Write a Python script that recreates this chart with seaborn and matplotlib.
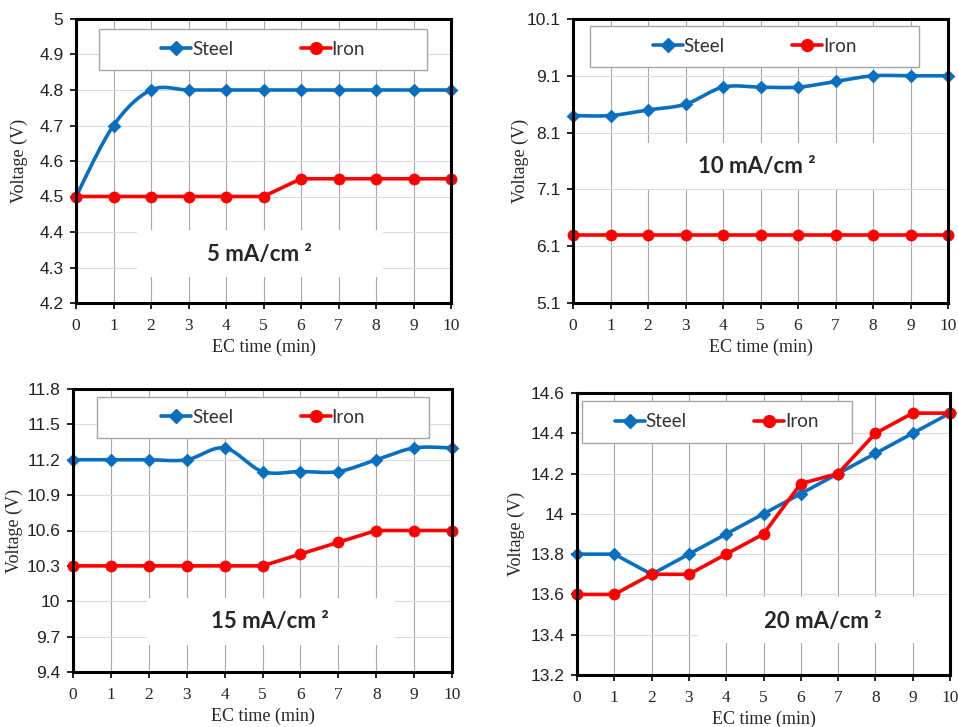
import numpy as np
import matplotlib
matplotlib.use("Agg")
import matplotlib.pyplot as plt
import seaborn as sns
from matplotlib.lines import Line2D
from matplotlib.patches import Rectangle

sns.set_theme(style="white")

# ---------------- data ----------------
time = [0, 1, 2, 3, 4, 5, 6, 7, 8, 9, 10]
steel_5 = [4.5, 4.7, 4.8, 4.8, 4.8, 4.8, 4.8, 4.8, 4.8, 4.8, 4.8]
iron_5 = [4.5, 4.5, 4.5, 4.5, 4.5, 4.5, 4.55, 4.55, 4.55, 4.55, 4.55]
steel_10 = [8.4, 8.4, 8.5, 8.6, 8.9, 8.9, 8.9, 9.0, 9.1, 9.1, 9.1]
iron_10 = [6.3, 6.3, 6.3, 6.3, 6.3, 6.3, 6.3, 6.3, 6.3, 6.3, 6.3]
steel_15 = [11.2, 11.2, 11.2, 11.2, 11.3, 11.1, 11.1, 11.1, 11.2, 11.3, 11.3]
iron_15 = [10.3, 10.3, 10.3, 10.3, 10.3, 10.3, 10.4, 10.5, 10.6, 10.6, 10.6]
steel_20 = [13.8, 13.8, 13.7, 13.8, 13.9, 14.0, 14.1, 14.2, 14.3, 14.4, 14.5]
iron_20 = [13.6, 13.6, 13.7, 13.7, 13.8, 13.9, 14.15, 14.2, 14.4, 14.5, 14.5]

labels_series = ["Steel", "Iron"]
panel_titles = ["5 mA/cm ²", "10 mA/cm ²", "15 mA/cm ²", "20 mA/cm ²"]
y_ticks = [
    [4.2, 4.3, 4.4, 4.5, 4.6, 4.7, 4.8, 4.9, 5.0],
    [5.1, 6.1, 7.1, 8.1, 9.1, 10.1],
    [9.4, 9.7, 10.0, 10.3, 10.6, 10.9, 11.2, 11.5, 11.8],
    [13.2, 13.4, 13.6, 13.8, 14.0, 14.2, 14.4, 14.6],
]
x_label = "EC time (min)"
y_label = "Voltage (V)"

STEEL = "#0B6FC0"
IRON = "#FF0000"

W, H = 958, 727
fig = plt.figure(figsize=(W / 100, H / 100), dpi=100)
fig.patch.set_facecolor("white")


def px_axes(l, r, t, b):
    return fig.add_axes([l / W, (H - b) / H, (r - l) / W, (b - t) / H])


def smooth(x, y, n=20):
    """Excel-like smoothed curve (Catmull-Rom Bezier) through the points."""
    x = np.asarray(x, float)
    y = np.asarray(y, float)
    P = np.column_stack([x, y])
    m = len(P)
    out = []
    t = np.linspace(0, 1, n)[:, None]
    for i in range(m - 1):
        p0 = P[i - 1] if i > 0 else P[i]
        p1 = P[i]
        p2 = P[i + 1]
        p3 = P[i + 2] if i + 2 < m else P[i + 1]
        c1 = p1 + (p2 - p0) / 6.0
        c2 = p2 - (p3 - p1) / 6.0
        seg = ((1 - t) ** 3) * p1 + 3 * ((1 - t) ** 2) * t * c1 + 3 * (1 - t) * t ** 2 * c2 + t ** 3 * p2
        out.append(seg if i == 0 else seg[1:])
    s = np.vstack(out)
    return s[:, 0], s[:, 1]


panels = [
    dict(rect=(76, 451, 19, 303), steel=steel_5, iron=iron_5, ticks=y_ticks[0],
         title=panel_titles[0], tpos=(0.49, 0.17), leg=(0.061, 0.82, 0.875, 0.145),
         wbox=(0.163, 0.092, 0.656, 0.165), smooth_steel=True, ylx=-0.128),
    dict(rect=(573, 948, 19, 303), steel=steel_10, iron=iron_10, ticks=y_ticks[1],
         title=panel_titles[1], tpos=(0.49, 0.48), leg=(0.045, 0.83, 0.878, 0.147),
         wbox=(0.16, 0.40, 0.667, 0.163), smooth_steel=True, ylx=-0.117),
    dict(rect=(73, 452, 389, 672), steel=steel_15, iron=iron_15, ticks=y_ticks[2],
         title=panel_titles[2], tpos=(0.52, 0.18), leg=(0.063, 0.827, 0.877, 0.145),
         wbox=(0.195, 0.095, 0.655, 0.165), smooth_steel=True, ylx=-0.132),
    dict(rect=(577, 950, 393, 675), steel=steel_20, iron=iron_20, ticks=y_ticks[3],
         title=panel_titles[3], tpos=(0.66, 0.19), leg=(0.013, 0.823, 0.724, 0.149),
         wbox=(0.324, 0.113, 0.676, 0.164), smooth_steel=False, ylx=-0.139),
]

serif = ["Liberation Serif", "DejaVu Serif"]
sans = ["Liberation Sans", "DejaVu Sans"]
calib = ["Lato", "DejaVu Sans"]

for p in panels:
    ax = px_axes(*p["rect"])
    ticks = p["ticks"]
    ax.set_xlim(0, 10)
    ax.set_ylim(ticks[0], ticks[-1])

    # grid
    for tk in time[1:-1]:
        ax.axvline(tk, color="#a8a8a8", lw=0.8, zorder=0)
    for tk in ticks[1:-1]:
        ax.axhline(tk, color="#dcdcdc", lw=0.8, zorder=0)

    # white area behind the annotation
    bx, by, bw, bh = p["wbox"]
    ax.add_patch(Rectangle((bx, by), bw, bh, transform=ax.transAxes, facecolor="white",
                           edgecolor="none", zorder=1))

    # series
    for name, vals, col, mk, ms, sm in [("Steel", p["steel"], STEEL, "D", 7, p["smooth_steel"]),
                                        ("Iron", p["iron"], IRON, "o", 8.5, False)]:
        if sm:
            sx, sy = smooth(time, vals)
        else:
            sx, sy = np.asarray(time, float), np.asarray(vals, float)
        sns.lineplot(x=sx, y=sy, sort=False, color=col, lw=2.6, ax=ax,
                     estimator=None, legend=False, zorder=3)
        ax.lines[-1].set_clip_on(False)
        sns.scatterplot(x=time, y=vals, color=col, marker=mk, s=ms ** 2,
                        linewidth=0, ax=ax, legend=False, zorder=4, clip_on=False)

    # ticks
    ax.set_xticks(time)
    ax.set_xticklabels([str(t) for t in time], fontfamily=serif, fontsize=12.5)
    ax.set_yticks(ticks)
    ax.set_yticklabels([f"{round(v, 2):g}" for v in ticks], fontfamily=sans, fontsize=12.5,
                       color="#222222")
    ax.tick_params(axis="both", direction="out", length=4, width=1.2, color="black",
                   bottom=True, left=True, pad=5)
    ax.tick_params(axis="x", pad=7)
    ax.set_xlabel(x_label, fontfamily=serif, fontsize=13, labelpad=3)
    ax.set_ylabel(y_label, fontfamily=serif, fontsize=13)
    ax.yaxis.set_label_coords(p["ylx"], 0.5)
    for sp in ax.spines.values():
        sp.set_visible(True)
        sp.set_color("black")
        sp.set_linewidth(2.2)
        sp.set_zorder(5)
    ax.set_facecolor("white")

    # annotation
    ax.text(p["tpos"][0], p["tpos"][1], p["title"], transform=ax.transAxes,
            ha="center", va="center", fontsize=16, fontweight="bold", fontfamily=calib,
            zorder=2)

    # legend box
    lx, ly, lw, lh = p["leg"]
    ax.add_patch(Rectangle((lx, ly), lw, lh, transform=ax.transAxes, facecolor="white",
                           edgecolor="#a6a6a6", lw=1.0, zorder=6))
    handles = [Line2D([0], [0], color=STEEL, lw=2.6, marker="D", markersize=7),
               Line2D([0], [0], color=IRON, lw=2.6, marker="o", markersize=8.5)]
    leg = ax.legend(handles, labels_series, loc="center",
                    bbox_to_anchor=(lx + lw / 2, ly + lh / 2), bbox_transform=ax.transAxes,
                    ncol=2, frameon=False, handlelength=1.6, handletextpad=0.05,
                    columnspacing=3.6, prop=dict(family=calib, size=13.5))
    leg.set_zorder(7)
    for t in leg.get_texts():
        t.set_color("#333333")

fig.savefig("out.png", dpi=100, facecolor="white")
